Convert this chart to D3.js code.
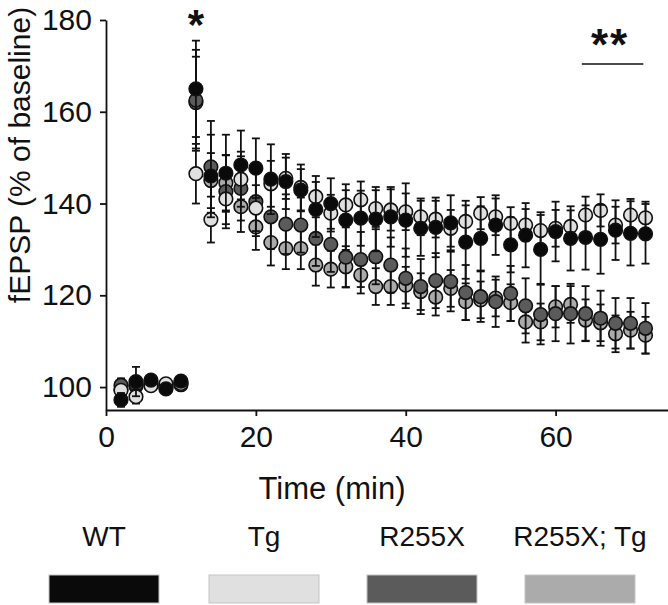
<!DOCTYPE html>
<html>
<head>
<meta charset="utf-8">
<script src="https://cdn.jsdelivr.net/npm/d3@7"></script>
<style>
  html, body { margin: 0; padding: 0; background: #fff; }
  svg { display: block; }
  text { font-family: "Liberation Sans", Arial, Helvetica, sans-serif; fill: #111; }
</style>
</head>
<body>
<svg id="chart" width="668" height="605"></svg>
<script>
// ---------- data ----------
const times = [2, 4, 6, 8, 10,
  12, 14, 16, 18, 20, 22, 24, 26, 28, 30, 32, 34, 36, 38, 40, 42,
  44, 46, 48, 50, 52, 54, 56, 58, 60, 62, 64, 66, 68, 70, 72];

const seriesNames = ["WT", "Tg", "R255X", "R255X; Tg"];
const seriesColors = ["#0a0a0a", "#e0e0e0", "#5b5b5b", "#ababab"];

const wtMean = [97.2, 101.2, 101.5, 99.6, 101.3,
  165, 146, 146.6, 148.4, 147.7, 145.3, 144.8, 142.9, 138.7, 140, 136.4, 136.8, 136.6, 137.1, 136.4, 134.6,
  134.8, 135.8, 131.6, 132.4, 135.3, 131, 133.1, 130, 133.9, 132.4, 132.6, 132.2, 134.2, 133.5, 133.4];
const wtErr = [1.5, 3.2, 1, 1, 1,
  10.5, 9, 8.4, 7.5, 6.5, 7.6, 6, 4.6, 6, 5.5, 6.5, 6, 7, 6.5, 8, 6,
  6.5, 6, 8, 7, 6.5, 6, 7, 7.5, 6.5, 7, 7, 7.5, 6.5, 7, 6.5];

const tgMean = [99.3, 97.9, 100.3, 100.7, 100.8,
  146.5, 136.5, 141, 145.3, 139, 144.3, 145.5, 143.5, 141.5, 137.9, 139.7, 140.8, 138.9, 138.6, 138.2, 137.1,
  136.6, 134.6, 136.1, 137.9, 137.1, 135.7, 135.3, 134.1, 134.6, 135, 137.5, 138.5, 135.3, 137.5, 136.9];
const tgErr = [1, 1.5, 1, 1, 1,
  6.5, 5, 5.5, 6, 5, 5, 4.5, 5, 4.5, 4, 4.5, 4, 4, 4.5, 4, 4,
  4, 4, 4.5, 3.5, 4, 3.5, 3.5, 4, 4, 3.5, 4, 3.5, 4, 3.5, 3.5];

const r255xMean = [100.4, 100.5, 101, 100, 101,
  162.5, 148, 142.6, 143.3, 140.4, 137.1, 135.5, 135.3, 132.4, 131.1, 128.3, 127.8, 128.4, 126.6, 123.7, 121.9,
  123.2, 123, 120.6, 119.7, 118.6, 120.4, 117.7, 115.8, 116, 116, 116, 115, 113.9, 113.9, 112.8];
const r255xErr = [1.5, 1, 1, 1, 1,
  11, 10, 8, 7, 7.5, 7, 6.5, 6, 6, 6, 6.5, 6, 6, 6, 6.5, 6,
  6, 6.5, 6, 5.5, 5.5, 6, 6, 6.5, 6, 6.5, 6, 6, 5.5, 5.5, 5.5];

const r255xTgMean = [99.5, 100.2, 100.5, 100.2, 100.5,
  162, 145, 144.5, 139.3, 134.9, 131.5, 130.2, 130.2, 126.6, 125.7, 126.2, 124.4, 121.9, 121.9, 122.2, 120.8,
  119.6, 121.5, 118.6, 119, 119.4, 118.4, 114.2, 114.2, 117.5, 118, 114.6, 114, 111.6, 112.4, 111.3];
const r255xTgErr = [1, 1, 1, 1, 1,
  10, 6, 6, 5.5, 5, 5, 4.5, 4.5, 4.5, 4, 4.5, 4, 4, 4, 4, 4,
  4, 4, 4, 4, 4, 4, 4.5, 4, 4.5, 4, 4.5, 4, 4, 4, 4];

const xTicks = [0, 20, 40, 60];
const yTicks = [100, 120, 140, 160, 180];

// ---------- chart ----------
const svg = d3.select("#chart");
const x = d3.scaleLinear().domain([0, 75]).range([106, 668]);
const y = d3.scaleLinear().domain([95, 180]).range([410, 20]);

const series = [
  { name: seriesNames[2], color: seriesColors[2], mean: r255xMean, err: r255xErr },
  { name: seriesNames[3], color: seriesColors[3], mean: r255xTgMean, err: r255xTgErr },
  { name: seriesNames[1], color: seriesColors[1], mean: tgMean, err: tgErr },
  { name: seriesNames[0], color: seriesColors[0], mean: wtMean, err: wtErr }
];
// drawing order: R255X;Tg, R255X, Tg, WT (top)
const drawOrder = [series[1], series[0], series[2], series[3]];

const plot = svg.append("g");
const capW = 4;
drawOrder.forEach(s => {
  const pts = times.map((t, i) => ({ t, m: s.mean[i], e: s.err[i] }));
  const g = plot.append("g");
  const eb = g.selectAll("g.eb").data(pts).enter().append("g")
    .attr("stroke", "#111").attr("stroke-width", 1.8);
  eb.append("line")
    .attr("x1", d => x(d.t)).attr("x2", d => x(d.t))
    .attr("y1", d => y(d.m - d.e)).attr("y2", d => y(d.m + d.e));
  eb.append("line")
    .attr("x1", d => x(d.t) - capW).attr("x2", d => x(d.t) + capW)
    .attr("y1", d => y(d.m + d.e)).attr("y2", d => y(d.m + d.e));
  eb.append("line")
    .attr("x1", d => x(d.t) - capW).attr("x2", d => x(d.t) + capW)
    .attr("y1", d => y(d.m - d.e)).attr("y2", d => y(d.m - d.e));
  g.selectAll("circle").data(pts).enter().append("circle")
    .attr("cx", d => x(d.t)).attr("cy", d => y(d.m))
    .attr("r", 6.8)
    .attr("fill", s.color)
    .attr("stroke", "#111").attr("stroke-width", 1.6);
});

// axes
const yAxis = svg.append("g").attr("transform", "translate(106,0)")
  .call(d3.axisLeft(y).tickValues(yTicks).tickSize(6).tickSizeOuter(0).tickPadding(8));
const xAxis = svg.append("g").attr("transform", "translate(0,410)")
  .call(d3.axisBottom(x).tickValues(xTicks).tickSize(6).tickSizeOuter(0).tickPadding(10));
[yAxis, xAxis].forEach(a => {
  a.select(".domain").attr("stroke", "#111").attr("stroke-width", 1.8);
  a.selectAll(".tick line").attr("stroke", "#111").attr("stroke-width", 1.8);
  a.selectAll(".tick text").attr("font-size", 30)
    .attr("font-family", "'Liberation Sans', Arial, sans-serif").attr("fill", "#111");
});

// axis titles
svg.append("text")
  .attr("transform", "translate(30,155) rotate(-90)")
  .attr("text-anchor", "middle").attr("font-size", 30)
  .text("fEPSP (% of baseline)");
svg.append("text")
  .attr("x", 332).attr("y", 499)
  .attr("text-anchor", "middle").attr("font-size", 31)
  .text("Time (min)");

// significance annotations
svg.append("text")
  .attr("x", x(12)).attr("y", 39)
  .attr("text-anchor", "middle").attr("font-size", 42).attr("font-weight", "bold")
  .text("*");
svg.append("text")
  .attr("x", 610).attr("y", 60)
  .attr("text-anchor", "middle").attr("font-size", 44).attr("font-weight", "bold")
  .attr("letter-spacing", 2)
  .text("**");
svg.append("line")
  .attr("x1", x(63.5)).attr("x2", x(71.7)).attr("y1", 64).attr("y2", 64)
  .attr("stroke", "#111").attr("stroke-width", 1.6);

// legend
const legendCenters = [104, 264, 422, 580];
const lg = svg.append("g");
seriesNames.forEach((name, i) => {
  lg.append("text")
    .attr("x", legendCenters[i]).attr("y", 546)
    .attr("text-anchor", "middle").attr("font-size", 28)
    .text(name);
  lg.append("rect")
    .attr("x", legendCenters[i] - 55).attr("y", 575)
    .attr("width", 110).attr("height", 28)
    .attr("fill", seriesColors[i])
    .attr("stroke", "#c4c4c4").attr("stroke-width", 1);
});
</script>
</body>
</html>
